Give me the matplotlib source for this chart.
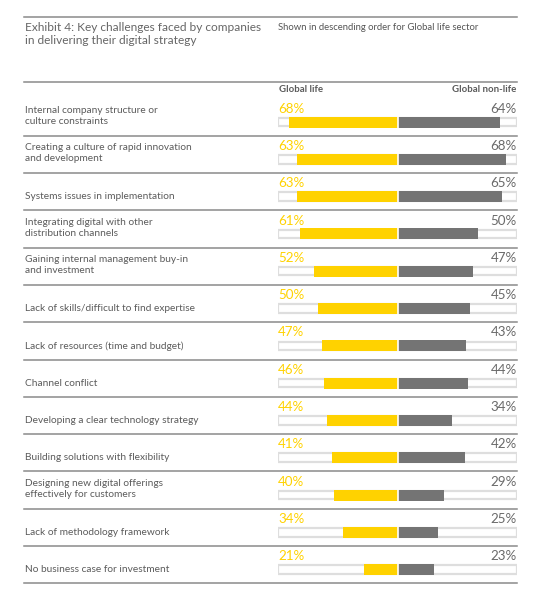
import matplotlib
matplotlib.use("Agg")
import matplotlib.pyplot as plt
from matplotlib.lines import Line2D
from matplotlib.transforms import blended_transform_factory

plt.rcParams['font.family'] = ['Lato', 'DejaVu Sans']

categories = [
    "Internal company structure or\nculture constraints",
    "Creating a culture of rapid innovation\nand development",
    "Systems issues in implementation",
    "Integrating digital with other\ndistribution channels",
    "Gaining internal management buy-in\nand investment",
    "Lack of skills/difficult to find expertise",
    "Lack of resources (time and budget)",
    "Channel conflict",
    "Developing a clear technology strategy",
    "Building solutions with flexibility",
    "Designing new digital offerings\neffectively for customers",
    "Lack of methodology framework",
    "No business case for investment",
]
global_life = [68, 63, 63, 61, 52, 50, 47, 46, 44, 41, 40, 34, 21]
global_nonlife = [64, 68, 65, 50, 47, 45, 43, 44, 34, 42, 29, 25, 23]

title = "Exhibit 4: Key challenges faced by companies\nin delivering their digital strategy"
subtitle = "Shown in descending order for Global life sector"
series_names = ["Global life", "Global non-life"]

YELLOW = "#FFD200"
GRAY = "#747474"
TEXT = "#5b5b5b"
LINE = "#8a8a8a"

W, H = 541, 601
fig = plt.figure(figsize=(W / 100, H / 100), dpi=100)

def fy(y):
    return 1 - y / H

def fx(x):
    return x / W

XL, XR = 24, 517
TL, TR = 278.3, 516.7
ROW0 = 122.0
ROWH = 37.3
LIM = 74.5

# horizontal rules
for yy in [17.3, 81.5] + [ROW0 + 13.7 + ROWH * i for i in range(len(categories))]:
    fig.add_artist(Line2D([fx(XL), fx(XR)], [fy(yy), fy(yy)], color=LINE, lw=1.1))

fig.text(fx(25), fy(34), title, fontsize=8.6, color="#666666", va="center", ha="left",
         linespacing=1.3)
fig.text(fx(TL), fy(27), subtitle, fontsize=6.8, color="#555555", va="center", ha="left")
fig.text(fx(TL + 1), fy(90), series_names[0], fontsize=6.9, color="#5b5b5b", weight="bold",
         va="center", ha="left")
fig.text(fx(TR), fy(90), series_names[1], fontsize=6.9, color="#5b5b5b", weight="bold",
         va="center", ha="right")

ax = fig.add_axes([fx(TL), 0, fx(TR) - fx(TL), 1])
ax.set_xlim(-LIM, LIM)
ax.set_ylim(H, 0)
ax.axis("off")

ys = [ROW0 + ROWH * i for i in range(len(categories))]
ax.barh(ys, [2 * LIM] * len(ys), left=-LIM, height=8.5, color="white",
        edgecolor="#dedede", lw=1.6)
ax.barh(ys, [-v for v in global_life], height=11, color=YELLOW, lw=0)
ax.barh(ys, global_nonlife, height=11, color=GRAY, lw=0)
for y in ys:
    ax.plot([0, 0], [y - 6, y + 6], color="white", lw=1.2)

trans = blended_transform_factory(fig.transFigure, ax.transData)
for y, lab, a, b in zip(ys, categories, global_life, global_nonlife):
    ax.text(-LIM, y - 13.3, f"{a}%", color=YELLOW, fontsize=9.6, ha="left", va="center")
    ax.text(LIM, y - 13.3, f"{b}%", color="#6a6a6a", fontsize=9.6, ha="right", va="center")
    ly = y - 6 if "\n" in lab else y
    ax.text(fx(25), ly, lab, transform=trans, fontsize=7.3, color=TEXT, ha="left",
            va="center", linespacing=1.25)

fig.savefig("out.png", dpi=100, facecolor="white")
